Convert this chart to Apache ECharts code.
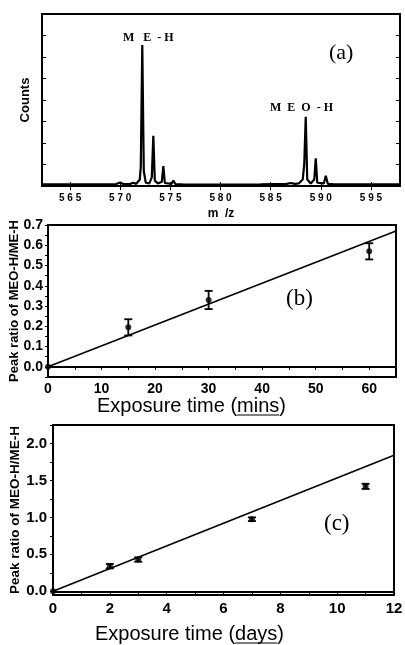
<!DOCTYPE html>
<html>
<head>
<meta charset="utf-8">
<script src="https://cdn.jsdelivr.net/npm/echarts@6/dist/echarts.min.js"></script>
<style>
  html, body { margin: 0; padding: 0; background: #fff; }
  #main { width: 405px; height: 645px; }
</style>
</head>
<body>
<div id="main"></div>
<script>
// (a) mass spectrum
const specMz = [562.3, 566, 569.6, 570.0, 570.3, 571.0, 571.3, 571.6, 571.95, 572.05, 572.2, 572.35, 572.55, 572.9,
  573.15, 573.3, 573.45, 573.75, 574.15, 574.3, 574.45, 575.1, 575.3, 575.5, 576.2, 580, 584, 586.6, 587.0, 587.4,
  587.8, 588.2, 588.35, 588.5, 588.65, 589.0, 589.35, 589.5, 589.65, 590.3, 590.5, 590.7, 591.35, 591.5, 591.65, 594, 597.8];
const specCounts = [0.08, 0.08, 0.09, 0.16, 0.09, 0.1, 0.15, 0.1, 0.3, 0.9, 6.56, 0.7, 0.15, 0.12,
  0.4, 2.33, 0.25, 0.12, 0.2, 0.93, 0.14, 0.1, 0.25, 0.09, 0.08, 0.07, 0.08, 0.1, 0.14, 0.1,
  0.12, 0.3, 1.0, 3.22, 0.3, 0.12, 0.3, 1.29, 0.15, 0.12, 0.48, 0.1, 0.08, 0.17, 0.08, 0.08, 0.08];
const mzTicks = [565, 570, 575, 580, 585, 590, 595];

// (b) peak ratio vs exposure time in minutes
const minsX = [0, 15, 30, 60];
const minsRatio = [0, 0.195, 0.33, 0.57];
const minsErr = [0, 0.04, 0.045, 0.04];
const minsFitX = [0, 65];
const minsFitY = [0, 0.67];
const minsXTicks = [0, 10, 20, 30, 40, 50, 60];
const minsYTicks = [0, 0.1, 0.2, 0.3, 0.4, 0.5, 0.6, 0.7];

// (c) peak ratio vs exposure time in days
const daysX = [0, 2, 3, 7, 11];
const daysRatio = [0, 0.34, 0.43, 0.975, 1.42];
const daysErr = [0, 0.03, 0.03, 0.025, 0.035];
const daysFitX = [0, 12];
const daysFitY = [0, 1.84];
const daysXTicks = [0, 2, 4, 6, 8, 10, 12];
const daysYTicks = [0, 0.5, 1.0, 1.5, 2.0];

const chart = echarts.init(document.getElementById('main'), null, { renderer: 'canvas' });

const sans = 'Liberation Sans';
const serif = 'Liberation Serif';

function range(a, b, step) {
  const out = [];
  for (let v = a; v <= b + 1e-9; v += step) out.push(Math.round(v * 1000) / 1000);
  return out;
}

function errorBars(xs, ys, es, hw) {
  return {
    type: 'custom',
    data: xs.map((x, i) => [x, ys[i], es[i]]).filter(d => d[2] > 0),
    renderItem: (params, api) => {
      const x = api.value(0), y = api.value(1), e = api.value(2);
      const t = api.coord([x, y + e]);
      const b = api.coord([x, y - e]);
      const st = { stroke: '#000', lineWidth: 1.8 };
      return {
        type: 'group',
        children: [
          { type: 'line', shape: { x1: t[0], y1: t[1], x2: b[0], y2: b[1] }, style: st },
          { type: 'line', shape: { x1: t[0] - hw, y1: t[1], x2: t[0] + hw, y2: t[1] }, style: st },
          { type: 'line', shape: { x1: b[0] - hw, y1: b[1], x2: b[0] + hw, y2: b[1] }, style: st }
        ]
      };
    },
    z: 5
  };
}

// x-axis title with the unit underlined, as in the original figure
function titleWithUnit(x, y, head, unit) {
  const font = '20px "Liberation Sans"';
  const headW = echarts.format.getTextRect ? echarts.format.getTextRect(head, font).width : head.length * 9.3;
  const unitW = echarts.format.getTextRect ? echarts.format.getTextRect(unit, font).width : unit.length * 10.5;
  return [
    { type: 'text', x: x, y: y, style: { text: head + unit + ')', font: font, fill: '#000', textVerticalAlign: 'middle' } },
    { type: 'line', shape: { x1: x + headW, y1: y + 9, x2: x + headW + unitW, y2: y + 9 }, style: { stroke: '#000', lineWidth: 1.2 } }
  ];
}

const lineSt = { color: '#000', width: 1.6 };

const option = {
  animation: false,
  backgroundColor: '#fff',
  grid: [
    { left: 42, right: 5, top: 14, height: 172, show: true, borderColor: '#000', borderWidth: 2, outerBoundsMode: 'none' },
    { left: 48, right: 9, top: 225, height: 152, show: true, borderColor: '#000', borderWidth: 2, outerBoundsMode: 'none' },
    { left: 53, right: 11, top: 425, height: 170, show: true, borderColor: '#000', borderWidth: 2, outerBoundsMode: 'none' }
  ],
  xAxis: [
    {
      gridIndex: 0, type: 'value', min: 562.2, max: 597.9,
      name: 'm  /z', nameLocation: 'middle', nameGap: 22, nameMoveOverlap: false,
      nameTextStyle: { fontFamily: sans, fontWeight: 'bold', fontSize: 12, color: '#000' },
      axisLine: { lineStyle: { color: '#000', width: 2 } },
      axisTick: { inside: true, length: 4, lineStyle: { color: '#000' }, customValues: mzTicks },
      axisLabel: {
        color: '#000', fontFamily: sans, fontWeight: 'bold', fontSize: 10, margin: 7,
        customValues: mzTicks, formatter: v => String(v).split('').join(' ')
      },
      splitLine: { show: false }
    },
    {
      gridIndex: 0, type: 'value', position: 'top', min: 562.2, max: 597.9,
      axisLine: { lineStyle: { color: '#000', width: 2 } },
      axisTick: { inside: true, length: 4, lineStyle: { color: '#000' }, customValues: mzTicks },
      axisLabel: { show: false }, splitLine: { show: false }
    },
    {
      gridIndex: 1, type: 'value', min: 0, max: 65,
      axisLine: { lineStyle: { color: '#000', width: 2 } },
      axisTick: { length: 3, lineStyle: { color: '#000' }, customValues: range(0, 65, 5) },
      axisLabel: { color: '#000', fontFamily: sans, fontWeight: 'bold', fontSize: 14, margin: 5, customValues: minsXTicks },
      splitLine: { show: false }
    },
    {
      gridIndex: 2, type: 'value', min: 0, max: 12,
      axisLine: { lineStyle: { color: '#000', width: 2 } },
      axisTick: { length: 3, lineStyle: { color: '#000' }, customValues: range(0, 12, 1) },
      axisLabel: { color: '#000', fontFamily: sans, fontWeight: 'bold', fontSize: 15, margin: 6, customValues: daysXTicks },
      splitLine: { show: false }
    }
  ],
  yAxis: [
    {
      gridIndex: 0, type: 'value', min: 0, max: 8,
      name: 'Counts', nameLocation: 'middle', nameGap: 10, nameMoveOverlap: false,
      nameTextStyle: { fontFamily: sans, fontWeight: 'bold', fontSize: 13, color: '#000' },
      axisLine: { lineStyle: { color: '#000', width: 2 } },
      axisTick: { inside: true, length: 4, lineStyle: { color: '#000' }, customValues: range(1, 7, 1) },
      axisLabel: { show: false }, splitLine: { show: false }
    },
    {
      gridIndex: 0, type: 'value', position: 'right', min: 0, max: 8,
      axisLine: { lineStyle: { color: '#000', width: 2 } },
      axisTick: { inside: true, length: 4, lineStyle: { color: '#000' }, customValues: range(1, 7, 1) },
      axisLabel: { show: false }, splitLine: { show: false }
    },
    {
      gridIndex: 1, type: 'value', min: -0.05, max: 0.7,
      name: 'Peak ratio of MEO-H/ME-H', nameLocation: 'middle', nameGap: 27, nameMoveOverlap: false,
      nameTextStyle: { fontFamily: sans, fontWeight: 'bold', fontSize: 13, color: '#000' },
      axisLine: { lineStyle: { color: '#000', width: 2 } },
      axisTick: { length: 3, lineStyle: { color: '#000' }, customValues: range(-0.05, 0.7, 0.05) },
      axisLabel: {
        color: '#000', fontFamily: sans, fontWeight: 'bold', fontSize: 14, margin: 5,
        customValues: minsYTicks, formatter: v => v.toFixed(1)
      },
      splitLine: { show: false }
    },
    {
      gridIndex: 2, type: 'value', min: -0.05, max: 2.25,
      name: 'Peak ratio of MEO-H/ME-H', nameLocation: 'middle', nameGap: 31, nameMoveOverlap: false,
      nameTextStyle: { fontFamily: sans, fontWeight: 'bold', fontSize: 13.5, color: '#000' },
      axisLine: { lineStyle: { color: '#000', width: 2 } },
      axisTick: { length: 3, lineStyle: { color: '#000' }, customValues: range(0, 2.25, 0.25) },
      axisLabel: {
        color: '#000', fontFamily: sans, fontWeight: 'bold', fontSize: 15, margin: 6,
        customValues: daysYTicks, formatter: v => v.toFixed(1)
      },
      splitLine: { show: false }
    }
  ],
  series: [
    {
      type: 'line', xAxisIndex: 0, yAxisIndex: 0, symbol: 'none',
      lineStyle: { color: '#000', width: 2.2 },
      data: specMz.map((m, i) => [m, specCounts[i]])
    },
    {
      type: 'line', xAxisIndex: 2, yAxisIndex: 2, symbol: 'none', lineStyle: lineSt,
      data: minsFitX.map((x, i) => [x, minsFitY[i]])
    },
    {
      type: 'scatter', xAxisIndex: 2, yAxisIndex: 2, symbolSize: 6, itemStyle: { color: '#000' },
      data: minsX.map((x, i) => [x, minsRatio[i]]), z: 6
    },
    Object.assign(errorBars(minsX, minsRatio, minsErr, 4), { xAxisIndex: 2, yAxisIndex: 2 }),
    {
      type: 'line', xAxisIndex: 3, yAxisIndex: 3, symbol: 'none', lineStyle: lineSt,
      data: daysFitX.map((x, i) => [x, daysFitY[i]])
    },
    {
      type: 'scatter', xAxisIndex: 3, yAxisIndex: 3, symbolSize: 6, itemStyle: { color: '#000' },
      data: daysX.map((x, i) => [x, daysRatio[i]]), z: 6
    },
    Object.assign(errorBars(daysX, daysRatio, daysErr, 4), { xAxisIndex: 3, yAxisIndex: 3 })
  ],
  graphic: [
    { type: 'text', left: 123, top: 32, style: { text: 'M   E  - H', font: 'bold 12px "Liberation Serif"', fill: '#000' } },
    { type: 'text', left: 270, top: 102, style: { text: 'M  E  O  - H', font: 'bold 12px "Liberation Serif"', fill: '#000' } },
    { type: 'text', left: 329, top: 42, style: { text: '(a)', font: '22px "Liberation Serif"', fill: '#000' } },
    { type: 'text', left: 286, top: 287, style: { text: '(b)', font: '23px "Liberation Serif"', fill: '#000' } },
    { type: 'text', left: 324, top: 512, style: { text: '(c)', font: '23px "Liberation Serif"', fill: '#000' } }
  ]
    .concat(titleWithUnit(97, 406, 'Exposure time (', 'mins'))
    .concat(titleWithUnit(95, 634, 'Exposure time (', 'days'))
};

chart.setOption(option);
</script>
</body>
</html>
